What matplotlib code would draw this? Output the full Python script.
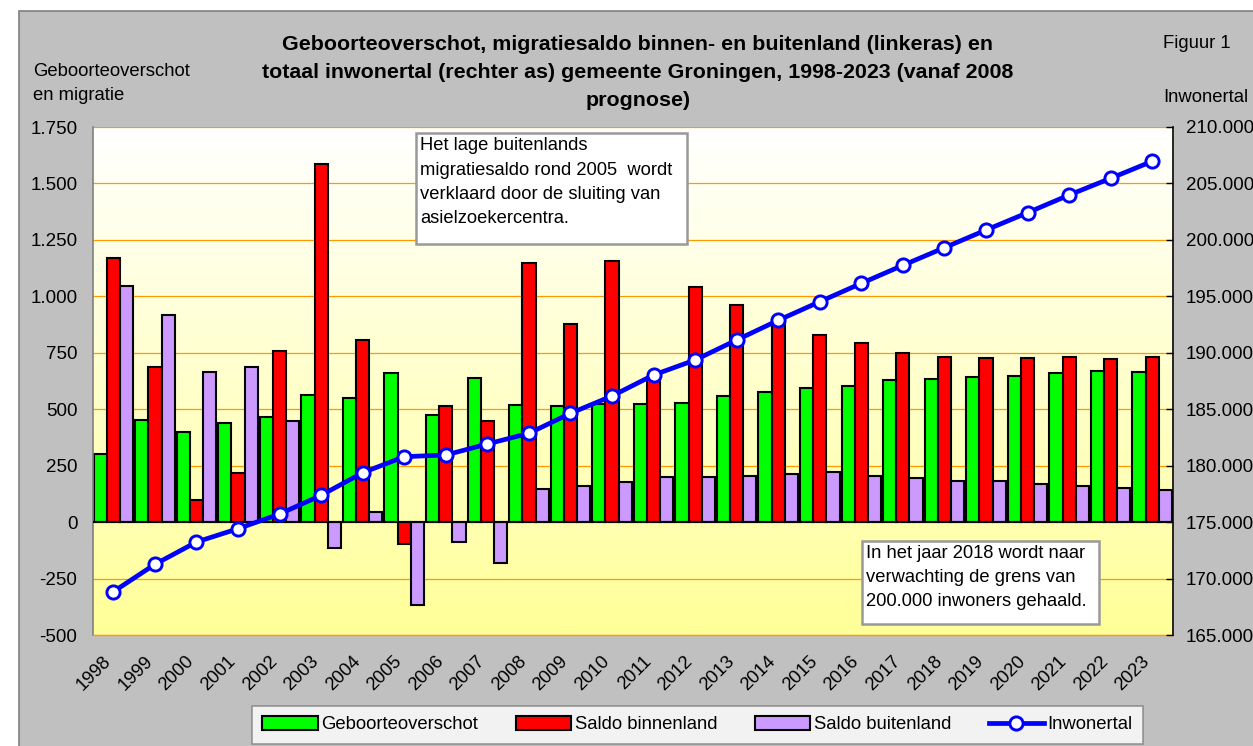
import numpy as np
import matplotlib
matplotlib.use("Agg")
import matplotlib.pyplot as plt
import matplotlib.transforms as mtransforms
from matplotlib.patches import Rectangle, Patch
from matplotlib.lines import Line2D
from matplotlib.ticker import FuncFormatter, FixedLocator

plt.rcParams['font.family'] = ['Liberation Sans', 'DejaVu Sans']

years = [str(y) for y in range(1998, 2024)]
geboorteoverschot = [300, 452, 397, 437, 467, 561, 549, 659, 475, 639,
                     518, 515, 524, 523, 527, 560, 575, 592, 604, 629,
                     632, 642, 648, 661, 670, 667]
saldo_binnenland = [1170, 687, 96, 216, 758, 1586, 808, -97, 515, 447,
                    1149, 876, 1155, 629, 1041, 960, 886, 827, 793, 750,
                    731, 728, 725, 731, 724, 731]
saldo_buitenland = [1045, 917, 667, 688, 446, -114, 46, -368, -89, -180,
                    145, 161, 177, 198, 198, 204, 211, 220, 204, 195,
                    180, 180, 170, 158, 149, 142]
inwonertal = [168836, 171263, 173239, 174417, 175719, 177375, 179378, 180795,
              180945, 181920, 182867, 184639, 186172, 188032, 189361, 191132,
              192877, 194525, 196155, 197749, 199308, 200876, 202409, 203977,
              205456, 206962]

series_labels = ["Geboorteoverschot", "Saldo binnenland", "Saldo buitenland", "Inwonertal"]
title_lines = ["Geboorteoverschot, migratiesaldo binnen- en buitenland (linkeras) en",
               "totaal inwonertal (rechter as) gemeente Groningen, 1998-2023 (vanaf 2008",
               "prognose)"]
left_label = ["Geboorteoverschot", "en migratie"]
right_label = "Inwonertal"
fig_label = "Figuur 1"
note1 = ["Het lage buitenlands", "migratiesaldo rond 2005  wordt",
         "verklaard door de sluiting van", "asielzoekercentra."]
note2 = ["In het jaar 2018 wordt naar", "verwachting de grens van",
         "200.000 inwoners gehaald."]

W, H = 1253, 746
fig = plt.figure(figsize=(W / 100, H / 100), dpi=100)
fig.patch.set_facecolor('white')
# gray chart area
fig.patches.append(Rectangle((19 / W, -0.01), 1.1, 1 - 11 / H + 0.01, transform=fig.transFigure,
                             facecolor='#C0C0C0', edgecolor='#808080', lw=1.2, zorder=0))

L, R, T, B = 92.6, 1173, 127, 635
ax = fig.add_axes([L / W, 1 - B / H, (R - L) / W, (B - T) / H])
ax.set_zorder(1)

x = np.arange(len(years))
bw = 0.317
# gradient background
grad = np.linspace(0, 1, 256)
top_c = np.array([1.0, 1.0, 1.0])
bot_c = np.array([1.0, 1.0, 0.6])
img = (top_c[None, :] * (1 - grad[:, None]) + bot_c[None, :] * grad[:, None]).reshape(256, 1, 3)
ax.imshow(img, extent=[0, 1, 0, 1], transform=ax.transAxes, aspect='auto', zorder=0,
          origin='upper')

ax.set_ylim(-500, 1750)
ax.set_xlim(-0.5, len(years) - 0.5)
ax.yaxis.set_major_locator(FixedLocator(np.arange(-500, 1751, 250)))
for yv in np.arange(-500, 1751, 250):
    if yv != 0:
        ax.axhline(yv, color='#FF9900', lw=0.9, zorder=0.5)

ax.bar(x - bw, geboorteoverschot, bw, color='#00FF00', edgecolor='black', lw=1.5, zorder=2)
ax.bar(x, saldo_binnenland, bw, color='#FF0000', edgecolor='black', lw=1.5, zorder=2)
ax.bar(x + bw, saldo_buitenland, bw, color='#CC99FF', edgecolor='black', lw=1.5, zorder=2)
ax.axhline(0, color='black', lw=1.5, zorder=3)

def nl_fmt(v, pos=None):
    s = f"{int(round(v)):,}".replace(",", ".")
    return s

ax.yaxis.set_major_formatter(FuncFormatter(nl_fmt))
ax.tick_params(axis='y', length=0, labelsize=13.5, pad=11)
ax.set_xticks(x)
ax.set_xticklabels(years, rotation=45, ha='right', rotation_mode='anchor', fontsize=13.3)
ax.tick_params(axis='x', length=0, pad=13)
offset = mtransforms.ScaledTranslation(-11 / 100, 0, fig.dpi_scale_trans)
for lbl in ax.get_xticklabels():
    lbl.set_transform(lbl.get_transform() + offset)
for s in ['top', 'right']:
    ax.spines[s].set_visible(False)
ax.spines['left'].set_color('#808080')
ax.spines['left'].set_linewidth(1.2)
ax.spines['bottom'].set_color('#FF9900')
ax.spines['bottom'].set_linewidth(0.9)

ax2 = ax.twinx()
ax2.set_ylim(165000, 210000)
ax2.set_yticks(np.arange(165000, 210001, 5000))
ax2.yaxis.set_major_formatter(FuncFormatter(nl_fmt))
ax2.plot(x, inwonertal, color='#0000FF', lw=3.4, marker='o', markersize=9.5,
         markerfacecolor='white', markeredgecolor='#0000FF', markeredgewidth=2.1, zorder=5)
ax2.tick_params(axis='y', direction='in', length=5, width=1, labelsize=13.5, pad=9)
for s in ['top', 'left', 'bottom']:
    ax2.spines[s].set_visible(False)
ax2.spines['right'].set_color('black')
ax2.spines['right'].set_linewidth(1.2)

# annotation boxes (axes fraction)
def box(ax, x0, y0, x1, y1, lines, tx, ty0, dy):
    ax.add_patch(Rectangle((x0, y0), x1 - x0, y1 - y0, transform=ax.transAxes,
                           facecolor='white', edgecolor='#999999', lw=1.8, zorder=6))
    for i, ln in enumerate(lines):
        ax.text(tx, ty0 - i * dy, ln, transform=ax.transAxes, fontsize=13.2,
                va='center', ha='left', zorder=7)

def fx(px):
    return (px - L) / (R - L)

def fy(py):
    return (B - py) / (B - T)

box(ax2, fx(416), fy(244), fx(687), fy(133), note1, fx(420), fy(146), 24.3 / (B - T))
box(ax2, fx(862), fy(624), fx(1099), fy(541), note2, fx(866), fy(553.5), 24.2 / (B - T))

# titles and labels
for i, ln in enumerate(title_lines):
    fig.text(638 / W, 1 - (44 + i * 28) / H, ln, ha='center', va='center',
             fontsize=15.4, fontweight='bold')
for i, ln in enumerate(left_label):
    fig.text(33 / W, 1 - (71 + i * 24) / H, ln, ha='left', va='center', fontsize=13.3)
fig.text(1163 / W, 1 - 44 / H, fig_label, ha='left', va='center', fontsize=13.3)
fig.text(1163 / W, 1 - 97 / H, right_label, ha='left', va='center', fontsize=13.3)

handles = [Patch(facecolor='#00FF00', edgecolor='black', lw=1.5),
           Patch(facecolor='#FF0000', edgecolor='black', lw=1.5),
           Patch(facecolor='#CC99FF', edgecolor='black', lw=1.5),
           Line2D([], [], color='#0000FF', lw=3.4, marker='o', markersize=9.5,
                  markerfacecolor='white', markeredgecolor='#0000FF', markeredgewidth=2.1)]
leg = fig.legend(handles, series_labels, loc='upper left', ncol=4,
                 bbox_to_anchor=(252 / W, 0, 891 / W, 1 - 706 / H), mode='expand',
                 fontsize=13.3, frameon=True, fancybox=False, handlelength=3.0,
                 handleheight=0.75, handletextpad=0.2, borderpad=0.55, borderaxespad=0,
                 columnspacing=1.0)
leg.get_frame().set_edgecolor('#808080')
leg.get_frame().set_linewidth(1.2)

fig.savefig('out.png', dpi=100)
